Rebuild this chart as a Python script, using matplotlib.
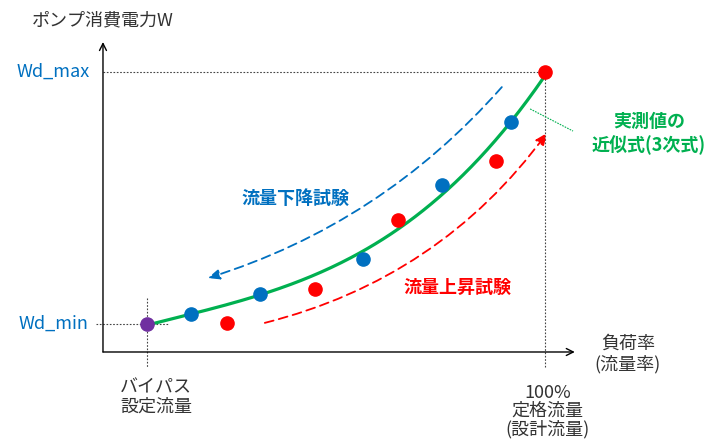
import numpy as np
import matplotlib
matplotlib.use("Agg")
import matplotlib.pyplot as plt

plt.rcParams['font.family'] = ['Noto Sans CJK JP', 'DejaVu Sans']

# flow rate [%] and pump power [%] (Wd_max = 100)
bypass_flow = 10
design_flow = 100
wd_min = 10
wd_max = 100

down_flow = [19.9, 35.5, 58.8, 76.7, 92.3]
down_power = [13.6, 20.7, 33.2, 59.6, 82.1]
up_flow = [28.0, 47.9, 66.7, 88.9, 100]
up_power = [10.4, 22.5, 47.1, 68.2, 100]

# points
fit_flow = [10, 19.7, 35.5, 49.1, 62.6, 67.2, 76.9, 92.5, 100]
fit_power = [10, 12.9, 20.4, 28.2, 40.0, 44.6, 57.1, 80.7, 100]

# dashed arrows (start, end)
down_arrow = [(90.2, 94.6), (23.7, 26.4)]
up_arrow = [(36.6, 10.4), (100.4, 78.2)]

BLUE = '#0070C0'
RED = '#FF0000'
GREEN = '#00B050'
PURPLE = '#7030A0'
TXT = '#333333'

fig = plt.figure(figsize=(7.07, 4.46), dpi=100)
ax = fig.add_axes([0, 0, 1, 1])
ax.set_xlim(-23.29, 136.6)
ax.set_ylim(-33.57, 125.7)
ax.axis('off')

# axes with arrows
ax.annotate('', xy=(0, 110.7), xytext=(0, 0),
            arrowprops=dict(arrowstyle='->,head_length=0.5,head_width=0.25',
                            color='black', lw=1.0, shrinkA=0, shrinkB=0))
ax.annotate('', xy=(106.7, 0), xytext=(0, 0),
            arrowprops=dict(arrowstyle='->,head_length=0.5,head_width=0.25',
                            color='black', lw=1.0, shrinkA=0, shrinkB=0))

# dotted guides
dot = dict(color='#444444', lw=0.8, linestyle=(0, (1.5, 1.5)))
ax.plot([0, design_flow], [wd_max, wd_max], **dot)
ax.plot([design_flow, design_flow], [wd_max, -5.4], **dot)
ax.plot([-1.6, 15], [wd_min, wd_min], **dot)
ax.plot([bypass_flow, bypass_flow], [19.3, -5.4], **dot)

# cubic approximation
coef = np.polyfit(fit_flow, fit_power, 3)
xs = np.linspace(bypass_flow, design_flow, 200)
ax.plot(xs, np.polyval(coef, xs), color=GREEN, lw=2.3, zorder=3)

# measured points
ax.plot(down_flow, down_power, 'o', color=BLUE, ms=9.5, zorder=4)
ax.plot(up_flow, up_power, 'o', color=RED, ms=9.5, zorder=4)
ax.plot([bypass_flow], [wd_min], 'o', color=PURPLE, ms=9.5, zorder=5)

# dashed arrows
ax.annotate('', xy=down_arrow[1], xytext=down_arrow[0],
            arrowprops=dict(arrowstyle='-|>,head_length=0.7,head_width=0.3',
                            color=BLUE, lw=1.3, linestyle=(0, (5, 3)),
                            connectionstyle='arc3,rad=-0.14',
                            shrinkA=0, shrinkB=0))
ax.annotate('', xy=up_arrow[1], xytext=up_arrow[0],
            arrowprops=dict(arrowstyle='-|>,head_length=0.7,head_width=0.3',
                            color=RED, lw=1.3, linestyle=(0, (5, 3)),
                            connectionstyle='arc3,rad=0.18',
                            shrinkA=0, shrinkB=0))

# leader line for the fit label
ax.plot([96.6, 106.3], [86.8, 78.9], color=GREEN, lw=0.8,
        linestyle=(0, (1.5, 1)))

# texts
ax.text(0, 118.6, 'ポンプ消費電力W', ha='center', va='center',
        fontsize=13, color=TXT)
ax.text(-2.9, wd_max, 'Wd_max', ha='right', va='center',
        fontsize=13, color=BLUE)
ax.text(-3.4, wd_min, 'Wd_min', ha='right', va='center',
        fontsize=13, color=BLUE)
ax.text(118.7, -0.7, '負荷率\n(流量率)', ha='center', va='center',
        fontsize=13, color=TXT, linespacing=1.2)
ax.text(12.0, -16.1, 'バイパス\n設定流量', ha='center', va='center',
        fontsize=13, color=TXT, linespacing=1.1)
ax.text(100.6, -21.1, '100%\n定格流量\n(設計流量)', ha='center', va='center',
        fontsize=13, color=TXT, linespacing=1.0)
ax.text(43.6, 55.0, '流量下降試験', ha='center', va='center',
        fontsize=13, color=BLUE, fontweight='bold')
ax.text(80.2, 23.2, '流量上昇試験', ha='center', va='center',
        fontsize=13, color=RED, fontweight='bold')
ax.text(123.5, 78.0, '実測値の\n近似式(3次式)', ha='center', va='center',
        fontsize=13, color=GREEN, fontweight='bold', linespacing=1.25)

fig.savefig('out.png', dpi=100)
